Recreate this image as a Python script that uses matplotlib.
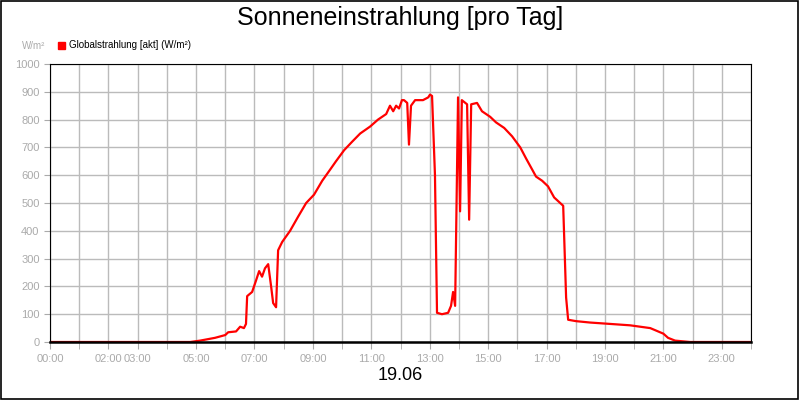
import matplotlib
matplotlib.use('Agg')
import matplotlib.pyplot as plt
import numpy as np

plt.rcParams['font.family'] = ['Liberation Sans', 'DejaVu Sans']

# hours of day and W/m²
hours = [0, 4.8, 5.14, 5.65, 6.0, 6.1, 6.37, 6.51, 6.64, 6.71, 6.75, 6.92, 7.05, 7.16, 7.26,
         7.36, 7.47, 7.57, 7.64, 7.74, 7.81, 7.95, 8.22, 8.49, 8.77, 9.04, 9.32, 9.59, 9.79,
         10.07, 10.34, 10.62, 10.96, 11.23, 11.51, 11.64, 11.75, 11.85, 11.95, 12.05, 12.12,
         12.23, 12.29, 12.36, 12.5, 12.77, 12.95, 13.01, 13.08, 13.18, 13.25, 13.42, 13.63,
         13.73, 13.8, 13.87, 13.97, 14.04, 14.1, 14.28, 14.35, 14.42, 14.62, 14.79, 15.07,
         15.27, 15.55, 15.82, 16.1, 16.3, 16.51, 16.64, 16.85, 17.05, 17.26, 17.57, 17.67,
         17.74, 18.01, 18.49, 19.18, 19.86, 20.55, 21.0, 21.16, 21.4, 21.92, 24.0]
watts = [0, 0, 5, 15, 25, 35, 38, 55, 50, 65, 165, 180, 220, 255, 235,
         265, 280, 200, 140, 125, 330, 360, 400, 450, 500, 530, 580, 620, 650,
         690, 720, 750, 775, 800, 820, 850, 830, 850, 840, 870, 870,
         860, 710, 850, 870, 870, 880, 890, 885, 600, 105, 100, 105,
         130, 180, 130, 880, 470, 870, 855, 440, 855, 860, 830, 810,
         790, 770, 740, 700, 660, 620, 595, 580, 560, 520, 490, 160,
         80, 75, 70, 65, 60, 50, 30, 15, 5, 0, 0]

tick_hours = [0, 2, 3, 5, 7, 9, 11, 13, 15, 17, 19, 21, 23]
tick_labels = ['00:00', '02:00', '03:00', '05:00', '07:00', '09:00', '11:00',
               '13:00', '15:00', '17:00', '19:00', '21:00', '23:00']

fig = plt.figure(figsize=(8, 4), dpi=100)
ax = fig.add_axes([50/800, 1 - 342/400, 701/800, 278/400])
ax.plot(hours, watts, color='red', lw=1.6)
ax.set_xlim(0, 24)
ax.set_ylim(0, 1000)
ax.set_xticks(range(25), minor=True)
ax.set_xticks(tick_hours, tick_labels)
ax.set_yticks(range(0, 1001, 100))
ax.grid(True, which='both', color='#bbbbbb', lw=1)
ax.set_axisbelow(True)
ax.tick_params(colors='#aaaaaa', labelsize=8, length=5, which='both')
ax.tick_params(axis='y', length=4)
for s in ax.spines.values():
    s.set_color('black')
ax.spines['bottom'].set_linewidth(1.8)

fig.text(0.5, 0.955, 'Sonneneinstrahlung [pro Tag]', ha='center', va='center', fontsize=18)
fig.text(0.5, 0.06, '19.06', ha='center', va='center', fontsize=13)
fig.text(22/800, 1 - 46/400, 'W/m²', color='#aaaaaa', fontsize=7, va='center')
fig.patches.append(plt.Rectangle((58/800, 1 - 49/400), 7/800, 7/400, color='red',
                                 transform=fig.transFigure, figure=fig))
fig.text(69/800, 1 - 45/400, 'Globalstrahlung [akt] (W/m²)', fontsize=7, va='center')
fig.patches.append(plt.Rectangle((0.001, 0.002), 0.997, 0.996, fill=False, ec='black',
                                 lw=1.2, transform=fig.transFigure, figure=fig))
fig.savefig('out.png', dpi=100)
